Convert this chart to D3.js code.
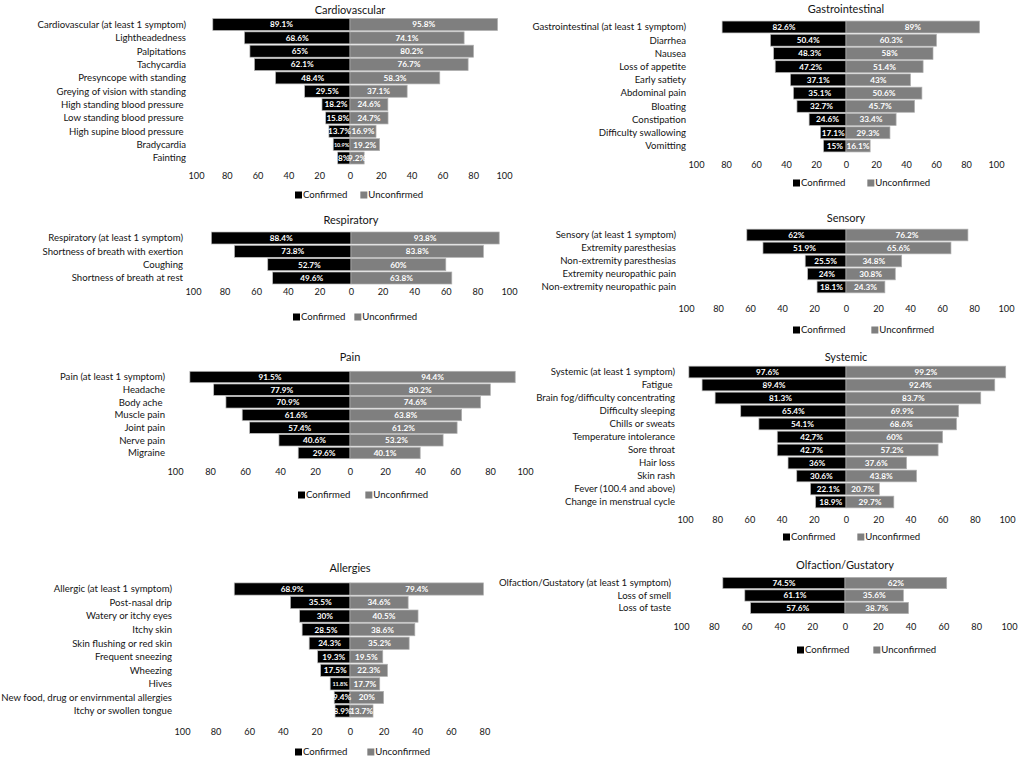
<!DOCTYPE html>
<html>
<head>
<meta charset="utf-8">
<script src="https://cdn.jsdelivr.net/npm/d3@7"></script>
<style>
  body { margin: 0; background: #fff; }
  svg { display: block; }
  text { font-family: Lato, "Open Sans", sans-serif; white-space: pre; }
</style>
</head>
<body>
<svg id="chart" width="1021" height="759"></svg>
<script>
// ---- data ----
const cardioCats = ["Cardiovascular (at least 1 symptom)", "Lightheadedness", "Palpitations", "Tachycardia",
  "Presyncope with standing", "Greying of vision with standing", "High standing blood pressure ",
  "Low standing blood pressure ", "High supine blood pressure ", "Bradycardia", "Fainting"];
const cardioConfirmed = [89.1, 68.6, 65, 62.1, 48.4, 29.5, 18.2, 15.8, 13.7, 10.9, 8];
const cardioUnconfirmed = [95.8, 74.1, 80.2, 76.7, 58.3, 37.1, 24.6, 24.7, 16.9, 19.2, 9.2];

const giCats = ["Gastrointestinal (at least 1 symptom)", "Diarrhea", "Nausea", "Loss of appetite", "Early satiety",
  "Abdominal pain", "Bloating", "Constipation", "Difficulty swallowing", "Vomitting"];
const giConfirmed = [82.6, 50.4, 48.3, 47.2, 37.1, 35.1, 32.7, 24.6, 17.1, 15];
const giUnconfirmed = [89, 60.3, 58, 51.4, 43, 50.6, 45.7, 33.4, 29.3, 16.1];

const respCats = ["Respiratory (at least 1 symptom)", "Shortness of breath with exertion", "Coughing",
  "Shortness of breath at rest"];
const respConfirmed = [88.4, 73.8, 52.7, 49.6];
const respUnconfirmed = [93.8, 83.8, 60, 63.8];

const sensoryCats = ["Sensory (at least 1 symptom)", "Extremity paresthesias", "Non-extremity paresthesias",
  "Extremity neuropathic pain", "Non-extremity neuropathic pain"];
const sensoryConfirmed = [62, 51.9, 25.5, 24, 18.1];
const sensoryUnconfirmed = [76.2, 65.6, 34.8, 30.8, 24.3];

const painCats = ["Pain (at least 1 symptom)", "Headache", "Body ache ", "Muscle pain", "Joint pain", "Nerve pain", "Migraine"];
const painConfirmed = [91.5, 77.9, 70.9, 61.6, 57.4, 40.6, 29.6];
const painUnconfirmed = [94.4, 80.2, 74.6, 63.8, 61.2, 53.2, 40.1];

const systemicCats = ["Systemic (at least 1 symptom)", "Fatigue ", "Brain fog/difficulty concentrating",
  "Difficulty sleeping", "Chills or sweats", "Temperature intolerance", "Sore throat", "Hair loss", "Skin rash",
  "Fever (100.4 and above)", "Change in menstrual cycle"];
const systemicConfirmed = [97.6, 89.4, 81.3, 65.4, 54.1, 42.7, 42.7, 36, 30.6, 22.1, 18.9];
const systemicUnconfirmed = [99.2, 92.4, 83.7, 69.9, 68.6, 60, 57.2, 37.6, 43.8, 20.7, 29.7];
// the source prints one value with a decimal comma
const systemicConfirmedText = systemicConfirmed.map((v, i) => i === 5 ? "42,7%" : v + "%");

const allergyCats = ["Allergic (at least 1 symptom)", "Post-nasal drip", "Watery or itchy eyes", "Itchy skin",
  "Skin flushing or red skin", "Frequent sneezing", "Wheezing", "Hives",
  "New food, drug or envirnmental allergies", "Itchy or swollen tongue"];
const allergyConfirmed = [68.9, 35.5, 30, 28.5, 24.3, 19.3, 17.5, 11.8, 9.4, 8.9];
const allergyUnconfirmed = [79.4, 34.6, 40.5, 38.6, 35.2, 19.5, 22.3, 17.7, 20, 13.7];

const olfCats = ["Olfaction/Gustatory (at least 1 symptom)", "Loss of smell", "Loss of taste"];
const olfConfirmed = [74.5, 61.1, 57.6];
const olfUnconfirmed = [62, 35.6, 38.7];

const tickValues = [-100, -80, -60, -40, -20, 0, 20, 40, 60, 80, 100];
const seriesNames = ["Confirmed", "Unconfirmed"];

const panels = [
  { title: "Cardiovascular", cats: cardioCats, conf: cardioConfirmed, unconf: cardioUnconfirmed },
  { title: "Gastrointestinal", cats: giCats, conf: giConfirmed, unconf: giUnconfirmed },
  { title: "Respiratory", cats: respCats, conf: respConfirmed, unconf: respUnconfirmed },
  { title: "Sensory", cats: sensoryCats, conf: sensoryConfirmed, unconf: sensoryUnconfirmed },
  { title: "Pain", cats: painCats, conf: painConfirmed, unconf: painUnconfirmed },
  { title: "Systemic", cats: systemicCats, conf: systemicConfirmed, unconf: systemicUnconfirmed, confText: systemicConfirmedText },
  { title: "Allergies", cats: allergyCats, conf: allergyConfirmed, unconf: allergyUnconfirmed },
  { title: "Olfaction/Gustatory", cats: olfCats, conf: olfConfirmed, unconf: olfUnconfirmed }
];

// ---- layout (zero line x, px per %, row centres, tick and legend rows) ----
const layout = [
  { cx: 350, k: 1.54, titleY: 10,  first: 24.5, last: 158, tickY: 176, legendY: 195, legendX: 295, legendGap: 13 },
  { cx: 846, k: 1.50, titleY: 9,   first: 27,   last: 146, tickY: 165, legendY: 183, legendX: 793, legendGap: 22 },
  { cx: 351, k: 1.58, titleY: 220, first: 238,  last: 278, tickY: 292, legendY: 317, legendX: 293, legendGap: 9 },
  { cx: 846, k: 1.60, titleY: 218, first: 235,  last: 287, tickY: 309, legendY: 330, legendX: 793, legendGap: 26 },
  { cx: 350, k: 1.75, titleY: 357, first: 377,  last: 453, tickY: 472, legendY: 495, legendX: 298, legendGap: 15 },
  { cx: 846, k: 1.61, titleY: 357, first: 372,  last: 502, tickY: 520, legendY: 537, legendX: 783, legendGap: 22 },
  { cx: 350, k: 1.68, titleY: 568, first: 589,  last: 711, tickY: 732, legendY: 752, legendX: 295, legendGap: 20, dropLastTick: true },
  { cx: 845, k: 1.64, titleY: 565, first: 583,  last: 608, tickY: 627, legendY: 650, legendX: 797, legendGap: 24 }
];

const colors = { conf: "#000000", unconf: "#7f7f7f" };
const ink = "#141414";
const svg = d3.select("#chart");

panels.forEach((p, i) => drawPanel(p, layout[i]));

function drawPanel(p, L) {
  const g = svg.append("g");
  const x = d3.scaleLinear().domain([-100, 100]).range([L.cx - 100 * L.k, L.cx + 100 * L.k]);
  const step = (L.last - L.first) / (p.cats.length - 1);
  const y = d3.scaleBand().domain(p.cats)
    .range([L.first - step / 2, L.last + step / 2])
    .paddingInner(0.1).paddingOuter(0.05);

  // title
  g.append("text")
    .attr("x", L.cx).attr("y", L.titleY).attr("dy", "0.35em")
    .attr("text-anchor", "middle")
    .attr("font-size", 11).attr("fill", ink)
    .text(p.title);

  // category labels
  g.append("g").selectAll("text")
    .data(p.cats).join("text")
      .attr("x", x(-100) - 10)
      .attr("y", d => y(d) + y.bandwidth() / 2)
      .attr("dy", "0.35em")
      .attr("text-anchor", "end")
      .attr("font-size", 9.6).attr("fill", ink)
      .text(d => d);

  const rows = p.cats.map((c, i) => ({
    cat: c, conf: p.conf[i], unconf: p.unconf[i],
    confText: p.confText ? p.confText[i] : p.conf[i] + "%",
    unconfText: p.unconf[i] + "%"
  }));

  // bars
  g.append("g").selectAll("rect")
    .data(rows).join("rect")
      .attr("x", d => x(-d.conf)).attr("width", d => x(0) - x(-d.conf))
      .attr("y", d => y(d.cat)).attr("height", y.bandwidth())
      .attr("fill", colors.conf).attr("stroke", "#bdbdbd").attr("stroke-width", 0.7);

  g.append("g").selectAll("rect")
    .data(rows).join("rect")
      .attr("x", x(0)).attr("width", d => x(d.unconf) - x(0))
      .attr("y", d => y(d.cat)).attr("height", y.bandwidth())
      .attr("fill", colors.unconf).attr("stroke", "#b0b0b0").attr("stroke-width", 0.7);

  // value labels, centred in each bar
  const fontFor = (txt, w) => (txt.length > 4 && w < 20) ? 5.5 : 8.2;
  g.append("g").selectAll("text")
    .data(rows).join("text")
      .attr("x", d => (x(-d.conf) + x(0)) / 2)
      .attr("y", d => y(d.cat) + y.bandwidth() / 2)
      .attr("dy", "0.35em").attr("text-anchor", "middle")
      .attr("font-size", d => fontFor(d.confText, x(0) - x(-d.conf)))
      .attr("font-weight", "bold").attr("fill", "#fff")
      .text(d => d.confText);

  g.append("g").selectAll("text")
    .data(rows).join("text")
      .attr("x", d => (x(d.unconf) + x(0)) / 2)
      .attr("y", d => y(d.cat) + y.bandwidth() / 2)
      .attr("dy", "0.35em").attr("text-anchor", "middle")
      .attr("font-size", d => fontFor(d.unconfText, x(d.unconf) - x(0)))
      .attr("font-weight", "bold").attr("fill", "#fff")
      .text(d => d.unconfText);

  // x axis (labels only)
  const ticks = L.dropLastTick ? tickValues.slice(0, -1) : tickValues;
  const ax = g.append("g")
    .attr("transform", `translate(0,${L.tickY})`)
    .call(d3.axisBottom(x).tickValues(ticks).tickFormat(d => Math.abs(d)).tickSize(0).tickPadding(0));
  ax.select(".domain").remove();
  ax.selectAll("text")
    .attr("y", 0).attr("dy", "0.35em")
    .attr("font-size", 9.2).attr("fill", ink)
    .style("font-family", "Lato, 'Open Sans', sans-serif");

  // legend
  const lg = g.append("g").attr("transform", `translate(${L.legendX},${L.legendY})`);
  const items = lg.selectAll("g")
    .data(seriesNames).join("g");
  items.append("rect")
    .attr("width", 7).attr("height", 7).attr("y", -3.5)
    .attr("fill", (d, i) => i === 0 ? colors.conf : colors.unconf);
  items.append("text")
    .attr("x", 8).attr("dy", "0.35em")
    .attr("font-size", 9.6).attr("fill", ink)
    .text(d => d);
  let off = 0;
  const widths = [];
  items.each(function () { widths.push(this.getBBox().width); });
  items.attr("transform", (d, i) => {
    const t = `translate(${off},0)`;
    off += widths[i] + L.legendGap;
    return t;
  });
}
</script>
</body>
</html>
